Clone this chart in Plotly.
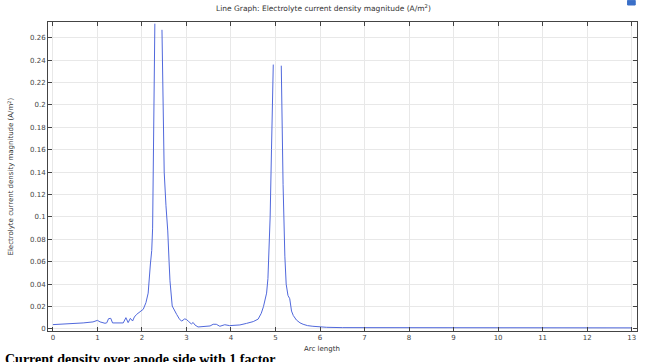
import plotly.graph_objects as go

# Segment data (arc length, current density magnitude); None splits the line
seg1_x = [0, 0.16, 0.38, 0.68, 0.9, 1.0, 1.06, 1.17, 1.21, 1.25, 1.3, 1.34, 1.58, 1.64, 1.69, 1.74, 1.79, 1.83,
          1.88, 1.95, 2.03, 2.09, 2.14, 2.19, 2.22, 2.24, 2.26, 2.27, 2.29]
seg1_y = [0.0039, 0.0042, 0.0051, 0.0054, 0.0063, 0.0077, 0.0063, 0.0051, 0.0055, 0.0092, 0.0095, 0.0054, 0.0054,
          0.0101, 0.0057, 0.0095, 0.0071, 0.0107, 0.013, 0.0155, 0.0176, 0.0235, 0.032, 0.058, 0.07, 0.09, 0.15,
          0.2, 0.2725]

seg2_x = [2.45, 2.47, 2.5, 2.54, 2.58, 2.61, 2.63, 2.68, 2.73, 2.78, 2.84, 2.89, 2.96, 3.0, 3.04, 3.08, 3.11, 3.15,
          3.19, 3.26, 3.38, 3.53, 3.6, 3.67, 3.75, 3.86, 3.97, 4.2, 4.35, 4.5, 4.61, 4.68, 4.73, 4.76, 4.8, 4.83,
          4.86, 4.88, 4.91, 4.95]
seg2_y = [0.267, 0.2, 0.14, 0.11, 0.0875, 0.06, 0.043, 0.0205, 0.016, 0.013, 0.009, 0.007, 0.009, 0.0085, 0.007,
          0.0055, 0.0045, 0.0058, 0.0036, 0.0018, 0.0024, 0.0027, 0.0042, 0.0042, 0.0024, 0.0038, 0.003, 0.0036,
          0.005, 0.0066, 0.0088, 0.014, 0.02, 0.025, 0.032, 0.045, 0.071, 0.1, 0.16, 0.236]

seg3_x = [5.13, 5.15, 5.17, 5.21, 5.24, 5.28, 5.32, 5.36, 5.4, 5.47, 5.55, 5.62, 5.72, 5.84, 6.0, 6.15, 6.5, 7, 8,
          8.2, 9, 10, 11, 12, 13]
seg3_y = [0.235, 0.18, 0.129, 0.065, 0.04, 0.03, 0.027, 0.016, 0.012, 0.008, 0.0055, 0.0042, 0.003, 0.0024,
          0.0018, 0.0015, 0.0012, 0.0012, 0.0011, 0.0011, 0.001, 0.001, 0.001, 0.001, 0.001]

x_ticks = list(range(0, 14))
y_ticks = [0, 0.02, 0.04, 0.06, 0.08, 0.1, 0.12, 0.14, 0.16, 0.18, 0.2, 0.22, 0.24, 0.26]
y_tick_text = ["0", "0.02", "0.04", "0.06", "0.08", "0.1", "0.12", "0.14", "0.16", "0.18", "0.2", "0.22",
               "0.24", "0.26"]

xs = seg1_x + [None] + seg2_x + [None] + seg3_x
ys = seg1_y + [None] + seg2_y + [None] + seg3_y

fig = go.Figure()
fig.add_trace(go.Scatter(x=xs, y=ys, mode="lines", connectgaps=False,
                         line=dict(color="#5068dc", width=1), showlegend=False))

axis_common = dict(showline=True, linecolor="#444", linewidth=1, mirror="ticks", ticks="inside",
                   ticklen=4, tickcolor="#444", showgrid=True, gridcolor="#e8e8e8", gridwidth=1,
                   zeroline=False, tickfont=dict(family="DejaVu Sans", size=7, color="#444"))

fig.update_layout(
    width=648, height=362,
    margin=dict(l=48, r=11, t=22, b=31),
    paper_bgcolor="white", plot_bgcolor="white",
    xaxis=dict(range=[-0.11, 13.12], tickvals=x_ticks, ticktext=[str(v) for v in x_ticks], **axis_common),
    yaxis=dict(range=[-0.0018, 0.274], tickvals=y_ticks, ticktext=y_tick_text, **axis_common),
    annotations=[
        dict(text="Line Graph: Electrolyte current density magnitude (A/m<sup>2</sup>)", xref="paper",
             yref="paper", x=0.468, y=1.0, yshift=14, showarrow=False, xanchor="center", yanchor="middle",
             font=dict(family="DejaVu Sans", size=7.5, color="#333")),
        dict(text="Arc length", xref="paper", yref="paper", x=0.465, y=0, yshift=-18, showarrow=False,
             xanchor="center", yanchor="middle", font=dict(family="DejaVu Sans", size=7, color="#333")),
        dict(text="Electrolyte current density magnitude (A/m<sup>2</sup>)", xref="paper", yref="paper",
             x=0, xshift=-38, y=0.5, textangle=-90, showarrow=False, xanchor="center", yanchor="middle",
             font=dict(family="DejaVu Sans", size=7, color="#333")),
        dict(text="<b>Current density over anode side with 1 factor</b>", xref="paper",
             yref="paper", x=0, xshift=-45, y=0, yshift=-19, showarrow=False, xanchor="left", yanchor="top",
             font=dict(family="Liberation Serif", size=14, color="#000")),
    ],
    shapes=[dict(type="rect", xref="paper", yref="paper", x0=0.984, x1=0.997, y0=1.055, y1=1.07,
                 fillcolor="#3a6fc8", line=dict(color="#3a6fc8", width=1))]
)

fig.write_html("out.html")
